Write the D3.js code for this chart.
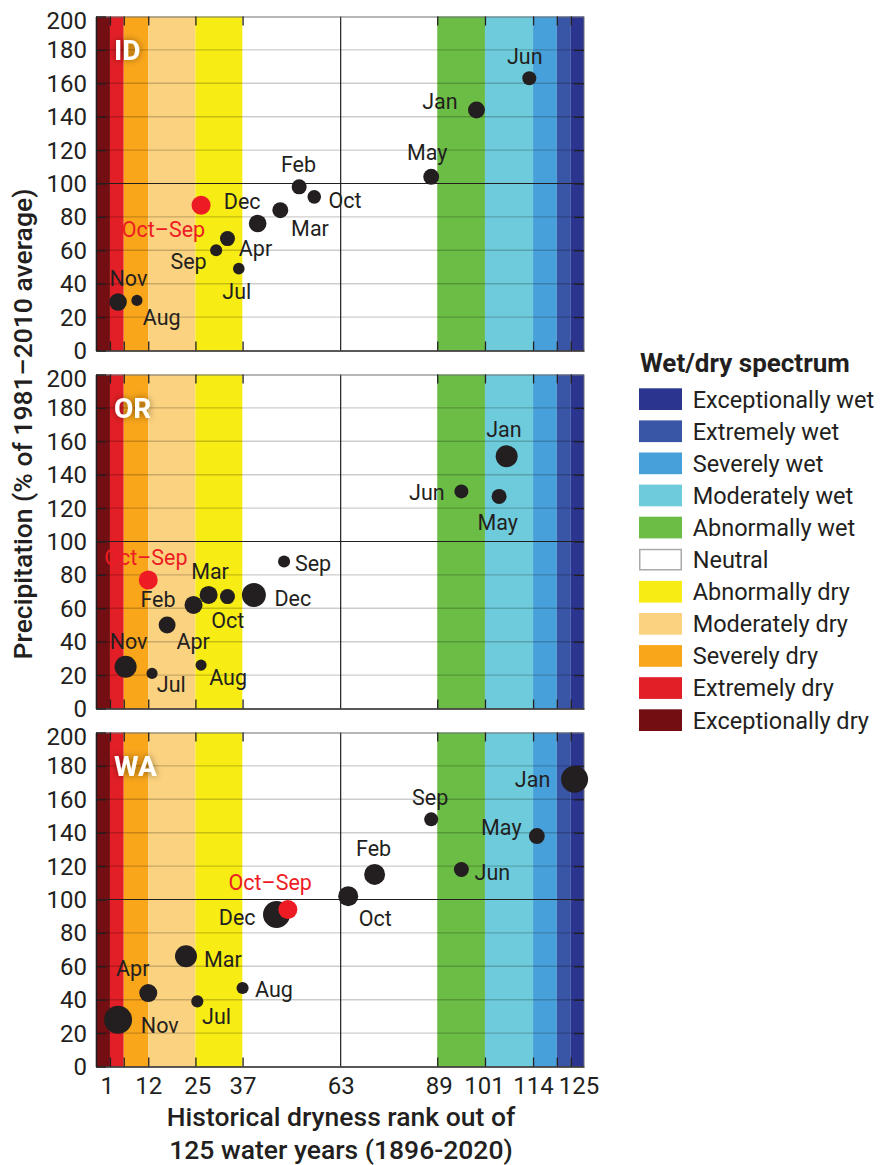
<!DOCTYPE html>
<html><head><meta charset="utf-8">
<script src="https://cdn.jsdelivr.net/npm/d3@7"></script>
<style>
body{margin:0;background:#fff}
svg{display:block}
text{font-family:Roboto,"Noto Sans",sans-serif}
</style>
</head><body>
<svg id="chart" width="886" height="1165"></svg>
<script>
// ---------------- data ----------------
const states = ["ID", "OR", "WA"];
const months = ["Oct","Nov","Dec","Jan","Feb","Mar","Apr","May","Jun","Jul","Aug","Sep"];
// dryness rank (1 = driest of 125 water years)
const idRank   = [56, 4, 41, 99, 52, 47, 33, 87, 113, 36, 9, 30];
const orRank   = [33, 6, 40, 107, 24, 28, 17, 105, 95, 13, 26, 48];
const waRank   = [65, 4, 46, 125, 72, 22, 12, 115, 95, 25, 37, 87];
// precipitation, % of 1981–2010 average
const idPrecip = [92, 29, 76, 144, 98, 84, 67, 104, 163, 49, 30, 60];
const orPrecip = [67, 25, 68, 151, 62, 68, 50, 127, 130, 21, 26, 88];
const waPrecip = [102, 28, 91, 172, 115, 66, 44, 138, 118, 39, 47, 148];
// relative bubble size (area units)
const idWeight = [3.3, 5.5, 5.5, 5.1, 4.0, 4.5, 4.0, 4.5, 3.5, 2.4, 2.2, 2.6];
const orWeight = [4.0, 8.6, 10.2, 8.6, 5.8, 5.8, 5.1, 4.0, 3.5, 2.2, 2.2, 2.6];
const waWeight = [7.1, 13.9, 13.0, 13.0, 7.8, 8.6, 5.8, 4.5, 4.0, 2.6, 2.6, 3.5];
// water year totals
const annualLabel = "Oct–Sep";
const annualRank = [26, 12, 49];
const annualPrecip = [87, 77, 94];

const categories = ["Exceptionally dry","Extremely dry","Severely dry","Moderately dry","Abnormally dry","Neutral","Abnormally wet","Moderately wet","Severely wet","Extremely wet","Exceptionally wet"];
const categoryEdges = [-1.85, 1.85, 5.5, 12, 24.5, 37, 88.6, 101.25, 114, 120.3, 124, 127.5];
const xTickValues = [1, 12, 25, 37, 63, 89, 101, 114, 125];
const yTickValues = [0, 20, 40, 60, 80, 100, 120, 140, 160, 180, 200];

const xTitle = ["Historical dryness rank out of", "125 water years (1896-2020)"];
const yTitle = "Precipitation (% of 1981–2010 average)";
const legendTitle = "Wet/dry spectrum";

// ---------------- styling / layout ----------------
const categoryColors = ["#730e12","#e21f26","#f9a61b","#fbd27f","#f7ec13","#ffffff","#6bbd45","#6dcbdb","#47a0da","#3955a5","#2b3590"];
const ink = "#231f20";
const red = "#ed1c24";
const panelTops = [16.5, 374.5, 732.5];
const panelH = 334;
const left = 96, right = 584;
const xTickNudge = {125: 4};

// label offsets (px from the bubble centre)
const labelOffsets = {
  ID: {"Oct–Sep":[-37.6,24.5], Dec:[-15.5,-22.4], Mar:[29.7,18.4], Feb:[-0.7,-22], Oct:[30.7,3.4], May:[-4,-24],
       Jan:[-36.5,-8.7], Jun:[-4.5,-22.4], Apr:[28,10], Sep:[-27.6,11.4], Jul:[-2,22.4], Nov:[10.3,-23.8], Aug:[24.8,17.4]},
  OR: {"Oct–Sep":[-2.4,-23], Nov:[3,-25.8], Jul:[19.3,11.4], Feb:[-35.5,-6], Apr:[26,16.4], Mar:[1.4,-24], Oct:[0.3,23.5],
       Dec:[39,3.4], Sep:[29,2], Aug:[27,12.4], Jun:[-34.5,0.7], May:[-1.4,26], Jan:[-2.8,-26.5]},
  WA: {"Oct–Sep":[-17.6,-26.8], Nov:[41.7,5.4], Apr:[-15.5,-24.8], Jul:[19.3,15], Mar:[37,2.7], Aug:[31.4,1.7], Dec:[-39.3,2.7],
       Oct:[27,21.8], Feb:[-1,-26], Sep:[-1,-22], Jun:[31,3], May:[-35.5,-8.4], Jan:[-42,0]}
};

const rankByState = [idRank, orRank, waRank];
const precipByState = [idPrecip, orPrecip, waPrecip];
const weightByState = [idWeight, orWeight, waWeight];

const svg = d3.select("#chart");
const defs = svg.append("defs");
const f = defs.append("filter").attr("id","glow").attr("x","-50%").attr("y","-50%").attr("width","200%").attr("height","200%");
f.append("feDropShadow").attr("dx",0).attr("dy",0).attr("stdDeviation",3.5).attr("flood-color","#000").attr("flood-opacity",0.45);

const x = d3.scaleLinear().domain([categoryEdges[0], categoryEdges[categoryEdges.length-1]]).range([left, right]);
const y = d3.scaleLinear().domain([0, 200]).range([panelH, 0]);
const r = d3.scaleSqrt().domain([0, 14]).range([0, 3.75 * Math.sqrt(14)]);

const bands = categories.map((c, i) => ({c, x0: categoryEdges[i], x1: categoryEdges[i+1], color: categoryColors[i]}));
const innerEdges = categoryEdges.slice(1, -1);

states.forEach((st, si) => {
  const g = svg.append("g").attr("transform", `translate(0,${panelTops[si]})`);
  g.selectAll("rect.band").data(bands).join("rect")
    .attr("x", d => x(d.x0)).attr("width", d => x(d.x1) - x(d.x0))
    .attr("y", 0).attr("height", panelH).attr("fill", d => d.color);
  g.selectAll("line.grid").data(yTickValues.filter(v => v > 0 && v < 200 && v !== 100)).join("line")
    .attr("x1", left).attr("x2", right).attr("y1", d => y(d)).attr("y2", d => y(d))
    .attr("stroke", "rgba(0,0,0,0.2)").attr("stroke-width", 1.4);
  g.append("line").attr("x1", left).attr("x2", right).attr("y1", y(100)).attr("y2", y(100))
    .attr("stroke", ink).attr("stroke-width", 1.2);
  g.append("line").attr("x1", x(63)).attr("x2", x(63)).attr("y1", 0).attr("y2", panelH)
    .attr("stroke", ink).attr("stroke-width", 1.2);
  g.append("line").attr("x1", left).attr("x2", right).attr("y1", 0.5).attr("y2", 0.5).attr("stroke", "#6d6e71").attr("stroke-width", 1);
  g.append("line").attr("x1", right).attr("x2", right).attr("y1", 0).attr("y2", panelH).attr("stroke", "#6d6e71").attr("stroke-width", 1);

  const yl = g.append("g").attr("transform", `translate(${left},0)`)
    .call(d3.axisLeft(y).tickValues(yTickValues).tickSizeInner(-10).tickSizeOuter(0).tickPadding(9));
  const yr = g.append("g").attr("transform", `translate(${right},0)`)
    .call(d3.axisRight(y).tickValues(yTickValues.filter(v => v > 0 && v < 200)).tickSizeInner(-10).tickSizeOuter(0).tickFormat(""));
  yr.select(".domain").remove();
  const xt = g.append("g")
    .call(d3.axisTop(x).tickValues(innerEdges).tickSizeInner(-9).tickSizeOuter(0).tickFormat(""));
  xt.select(".domain").remove();
  const xb = g.append("g").attr("transform", `translate(0,${panelH})`)
    .call(d3.axisBottom(x).tickValues(innerEdges).tickSizeInner(-9).tickSizeOuter(0).tickFormat(""));
  [yl, yr, xt, xb].forEach(a => {
    a.selectAll("line").attr("stroke", ink).attr("stroke-width", 1.3);
    a.select(".domain").attr("stroke", ink).attr("stroke-width", 1.6);
  });
  yl.selectAll("text").attr("font-size", 24).attr("fill", ink).attr("font-family", "Roboto")
    .attr("dy", d => d === 200 ? "0.5em" : "0.33em");

  if (si === 2) {
    const xl = g.append("g").attr("transform", `translate(0,${panelH})`)
      .call(d3.axisBottom(x).tickValues(xTickValues).tickSize(0).tickPadding(10));
    xl.select(".domain").remove();
    xl.selectAll("text").attr("font-size", 24).attr("fill", ink).attr("font-family", "Roboto")
      .attr("dx", d => xTickNudge[d] || 0);
  }

  g.append("text").attr("x", 114).attr("y", 43.5).text(st)
    .attr("font-size", 28).attr("font-weight", 700).attr("fill", "#fff").attr("filter", "url(#glow)");

  const pts = months.map((m, i) => ({m, rank: rankByState[si][i], v: precipByState[si][i], w: weightByState[si][i]}));
  g.selectAll("circle.m").data(pts).join("circle")
    .attr("cx", d => x(d.rank)).attr("cy", d => y(d.v)).attr("r", d => r(d.w)).attr("fill", ink);
  const ann = {m: annualLabel, rank: annualRank[si], v: annualPrecip[si]};
  g.append("circle").attr("cx", x(ann.rank)).attr("cy", y(ann.v)).attr("r", 9.5).attr("fill", red);

  const offs = labelOffsets[st];
  g.selectAll("text.lab").data(pts.concat([ann])).join("text")
    .attr("x", d => x(d.rank) + offs[d.m][0])
    .attr("y", d => y(d.v) + offs[d.m][1])
    .attr("dy", "0.355em").attr("text-anchor", "middle")
    .attr("font-size", 21.5).attr("fill", d => d.m === annualLabel ? red : ink)
    .text(d => d.m);
});

svg.append("text").attr("transform", "translate(32,424) rotate(-90)").attr("text-anchor", "middle")
  .attr("font-size", 26.5).attr("font-weight", 500).attr("fill", ink).text(yTitle);
svg.selectAll("text.xt").data(xTitle).join("text")
  .attr("x", 341).attr("y", (d, i) => 1126 + i * 33).attr("text-anchor", "middle")
  .attr("font-size", 26.5).attr("font-weight", 500).attr("fill", ink).text(d => d);

const lg = svg.append("g");
lg.append("text").attr("x", 640).attr("y", 372).attr("font-size", 26).attr("font-weight", 700).attr("fill", ink).text(legendTitle);
const legendItems = categories.map((c, i) => ({c, color: categoryColors[i]})).reverse();
const li = lg.selectAll("g.li").data(legendItems).join("g")
  .attr("transform", (d, i) => `translate(639,${388.3 + i * 32.1})`);
li.append("rect")
  .attr("fill", d => d.color)
  .attr("stroke", d => d.c === "Neutral" ? "#a7a9ac" : "none").attr("stroke-width", 1.5)
  .attr("x", d => d.c === "Neutral" ? 0.75 : 0).attr("y", d => d.c === "Neutral" ? 0.75 : 0)
  .attr("width", d => d.c === "Neutral" ? 41.5 : 43).attr("height", d => d.c === "Neutral" ? 20.2 : 21.7);
li.append("text").attr("x", 53.7).attr("y", 10.85).attr("dy", "0.355em")
  .attr("font-size", 23.5).attr("fill", ink).text(d => d.c);
</script>
</body></html>
